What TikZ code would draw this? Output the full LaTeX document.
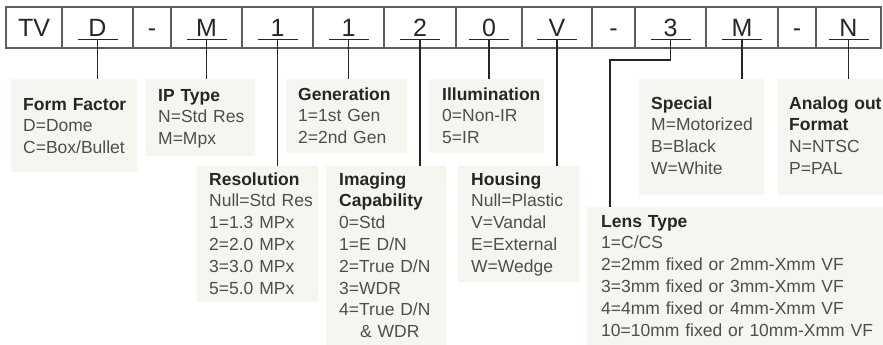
\documentclass[tikz,border=0pt]{standalone}
\usepackage{fontspec}
\setmainfont{Liberation Sans}
\usetikzlibrary{calc, positioning}

\definecolor{boxfill}{RGB}{244,247,239}
\definecolor{framegray}{RGB}{95,95,95}
\definecolor{inkdark}{RGB}{38,38,38}
\definecolor{inkbody}{RGB}{78,78,78}

\tikzset{
  cellbox/.style={draw=framegray, line width=1.2pt, inner sep=0pt,
    text height=18pt, text depth=0pt, text=inkdark,
    font=\fontsize{25}{30}\selectfont},
  infobox/.style={fill=boxfill, inner sep=0pt, anchor=north west},
  infotext/.style={inner sep=0pt, anchor=base west, align=left,
    text=inkbody, font=\fontsize{17.5}{21.8}\selectfont},
  stem/.style={draw=inkdark, line width=1.1pt},
  underline/.style={draw=inkdark, line width=1pt}
}
\newcommand{\head}[1]{\textbf{\color{inkdark}#1}}

\begin{document}
\begin{tikzpicture}[x=1pt,y=1pt]
\useasboundingbox (0,0) rectangle (883,-345);

% code strip
\foreach \i/\xl/\xr/\ch in {1/6/62/TV,2/62/133/D,3/133/171/-,4/171/242/M,
    5/242/313/1,6/313/384/1,7/384/456/2,8/456/522/0,9/522/592/V,
    10/592/635/-,11/635/706/3,12/706/778/M,13/778/816/-,14/816/881/N} {
  \node[cellbox, minimum width={(\xr-\xl)*1pt}, minimum height=41pt]
    (C\i) at ({(\xl+\xr)/2},-27.5) {\ch};
  \coordinate (U\i) at ({(\xl+\xr)/2},-39.5);
}

% boxes
\node[infobox, minimum width=126pt, minimum height=93pt] (formfactor) at (11,-79) {};
\node[infobox, minimum width=109pt, minimum height=77pt] (iptype) at (146,-79) {};
\node[infobox, minimum width=121pt, minimum height=74pt] (generation) at (286,-79) {};
\node[infobox, minimum width=115pt, minimum height=74pt] (illumination) at (429,-79) {};
\node[infobox, minimum width=125pt, minimum height=116pt] (special) at (639,-79) {};
\node[infobox, minimum width=105pt, minimum height=116pt] (analog) at (778,-79) {};
\node[infobox, minimum width=121pt, minimum height=136pt] (resolution) at (197,-166) {};
\node[infobox, minimum width=120pt, minimum height=179pt] (imaging) at (326,-166) {};
\node[infobox, minimum width=121pt, minimum height=116pt] (housing) at (458,-166) {};
\node[infobox, minimum width=296pt, minimum height=138pt] (lens) at (587,-207) {};

% texts
\node[infotext, text width=120pt] (fftext) at (23,-110)
  {\head{Form Factor}\\D=Dome\\C=Box/Bullet};
\node[infotext, text width=100pt] (iptext) at (158,-101)
  {\head{IP Type}\\N=Std Res\\M=Mpx};
\node[infotext, text width=110pt] (gentext) at (298,-100)
  {\head{Generation}\\1=1st Gen\\2=2nd Gen};
\node[infotext, text width=110pt] (illtext) at (442,-100)
  {\head{Illumination}\\0=Non-IR\\5=IR};
\node[infotext, text width=115pt] (spectext) at (651,-109)
  {\head{Special}\\M=Motorized\\B=Black\\W=White};
\node[infotext, text width=93pt] (anatext) at (789,-109)
  {\head{Analog out}\\\head{Format}\\N=NTSC\\P=PAL};
\node[infotext, text width=112pt] (restext) at (209,-185)
  {\head{Resolution}\\Null=Std Res\\1=1.3 MPx\\2=2.0 MPx\\3=3.0 MPx\\5=5.0 MPx};
\node[infotext, text width=110pt] (imgtext) at (339,-185)
  {\head{Imaging}\\\head{Capability}\\0=Std\\1=E D/N\\2=True D/N\\3=WDR\\4=True D/N\\\hspace*{21pt}\& WDR};
\node[infotext, text width=110pt] (houtext) at (471,-185)
  {\head{Housing}\\Null=Plastic\\V=Vandal\\E=External\\W=Wedge};
\node[infotext, text width=280pt] (lenstext) at (601,-227)
  {\head{Lens Type}\\1=C/CS\\2=2mm fixed or 2mm-Xmm VF\\3=3mm fixed or 3mm-Xmm VF\\4=4mm fixed or 4mm-Xmm VF\\10=10mm fixed or 10mm-Xmm VF};

% underlines and stems
\foreach \c in {2,4,5,6,7,8,9,11,12,14}
  \draw[underline] ([xshift=-20pt]U\c) -- ([xshift=20pt]U\c);
\foreach \c/\b in {2/formfactor,4/iptype,5/resolution,6/generation,7/imaging,
    8/illumination,9/housing,12/special,14/analog}
  \draw[stem] (U\c) -- (U\c |- \b.north);
\coordinate (lensbend) at (610,-60);
\draw[stem] (U11) |- (lensbend) -- (lensbend |- lens.north);
\end{tikzpicture}
\end{document}
